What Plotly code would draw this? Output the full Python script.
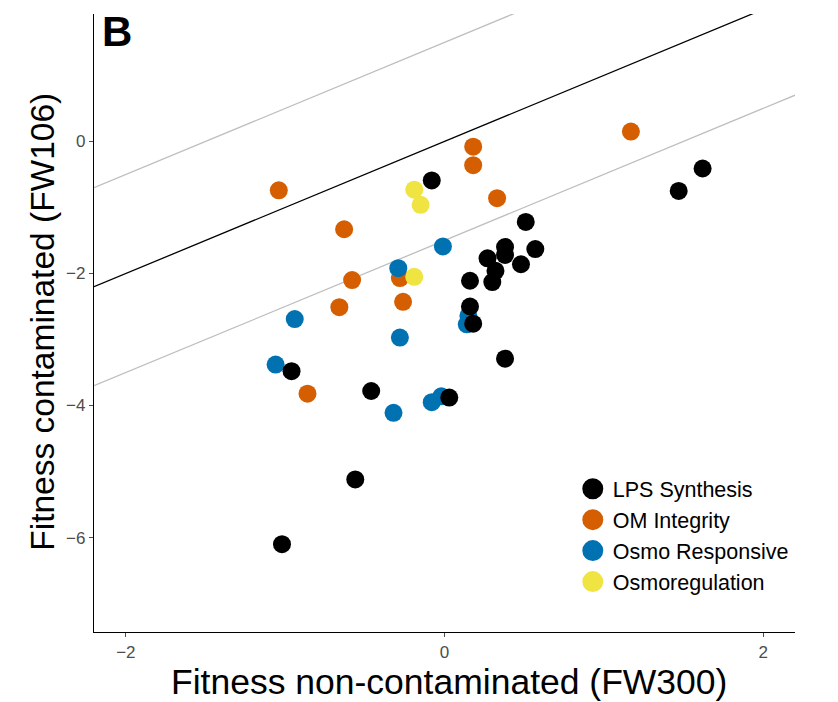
import plotly.graph_objects as go

# ---- data ----
categories = ["LPS Synthesis", "OM Integrity", "Osmo Responsive", "Osmoregulation"]
colors = ["#000000", "#D55E00", "#0072B2", "#F0E442"]

lps_x = [-0.08, 1.62, 1.47, 0.51, 0.38, 0.57, 0.38, 0.27, 0.48, 0.32, 0.16, 0.30,
         0.16, 0.18, 0.38, -0.96, -0.46, 0.03, -0.56, -1.02]
lps_y = [-0.59, -0.41, -0.75, -1.22, -1.60, -1.63, -1.72, -1.77, -1.86, -1.96, -2.11, -2.13,
         -2.50, -2.76, -3.29, -3.48, -3.78, -3.88, -5.12, -6.10]

om_x = [-1.04, -0.63, -0.58, -0.66, -0.28, -0.26, 0.18, 0.18, 0.33, 1.17, -0.86]
om_y = [-0.74, -1.33, -2.10, -2.51, -2.07, -2.43, -0.08, -0.36, -0.86, 0.15, -3.82]

osr_x = [-0.01, -0.29, -0.94, -0.28, 0.15, 0.14, -1.06, -0.32, -0.08, -0.02]
osr_y = [-1.59, -1.92, -2.69, -2.97, -2.64, -2.77, -3.38, -4.11, -3.95, -3.86]

osm_x = [-0.19, -0.15, -0.19]
osm_y = [-0.73, -0.96, -2.05]

# reference lines y = x + b
line_intercepts = [1.5, -1.5, 0.0]
line_colors = ["#BEBEBE", "#BEBEBE", "#000000"]
x_range = [-2.2, 2.2]
y_range = [-7.43, 1.93]

x_ticks = [-2, 0, 2]
x_ticktext = ["\u22122", "0", "2"]
y_ticks = [-6, -4, -2, 0]
y_ticktext = ["\u22126", "\u22124", "\u22122", "0"]

x_title = "Fitness non-contaminated (FW300)"
y_title = "Fitness contaminated (FW106)"
panel_label = "B"

FONT = "Liberation Sans, Arial, Helvetica, sans-serif"

fig = go.Figure()

for b, c in zip(line_intercepts, line_colors):
    fig.add_trace(go.Scatter(
        x=x_range, y=[x_range[0] + b, x_range[1] + b], mode="lines",
        line=dict(color=c, width=1.3), showlegend=False, hoverinfo="skip"))

series = {
    "LPS Synthesis": (lps_x, lps_y),
    "OM Integrity": (om_x, om_y),
    "Osmo Responsive": (osr_x, osr_y),
    "Osmoregulation": (osm_x, osm_y),
}
# draw order: OM, Osmo responsive, Osmoregulation, LPS (black on top)
draw_order = ["OM Integrity", "Osmo Responsive", "Osmoregulation", "LPS Synthesis"]
for name in draw_order:
    xs, ys = series[name]
    c = colors[categories.index(name)]
    fig.add_trace(go.Scatter(
        x=xs, y=ys, mode="markers", name=name,
        marker=dict(size=18, color=c, line=dict(width=0)),
        showlegend=False))

# legend entries (bigger symbols, as in the reference)
for i, name in enumerate(categories):
    fig.add_trace(go.Scatter(
        x=[None], y=[None], mode="markers", name=name,
        marker=dict(size=18, color=colors[i], line=dict(width=5, color=colors[i])),
        showlegend=True, legendrank=i + 1))

axis_common = dict(
    showgrid=False, zeroline=False, showline=True, linecolor="#000000", linewidth=1.3,
    ticks="outside", ticklen=4, tickwidth=1.1, tickcolor="#4d4d4d",
    tickfont=dict(family=FONT, size=17, color="#4d4d4d"), automargin=False,
)

fig.update_xaxes(range=x_range, tickvals=x_ticks, ticktext=x_ticktext, **axis_common)
fig.update_yaxes(range=y_range, tickvals=y_ticks, ticktext=y_ticktext, **axis_common)

fig.add_annotation(text=x_title, xref="paper", yref="paper",
                   x=0.507, y=-0.0815, xanchor="center", yanchor="middle", showarrow=False,
                   font=dict(family=FONT, size=35.5, color="#000000"))
fig.add_annotation(text=y_title, xref="paper", yref="paper", textangle=-90,
                   x=-0.0728, y=0.502, xanchor="center", yanchor="middle", showarrow=False,
                   font=dict(family=FONT, size=33.5, color="#000000"))
fig.add_annotation(text="<b>%s</b>" % panel_label, xref="paper", yref="paper",
                   x=0.008, y=0.972, xanchor="left", yanchor="middle", showarrow=False,
                   font=dict(family=FONT, size=42, color="#000000"))

fig.update_layout(
    width=838, height=702,
    margin=dict(l=94, r=43, t=14, b=70),
    plot_bgcolor="white", paper_bgcolor="white",
    font=dict(family=FONT),
    legend=dict(x=0.683, y=0.265, xanchor="left", yanchor="top",
                font=dict(family=FONT, size=21.5, color="#000000"),
                bgcolor="rgba(0,0,0,0)", itemsizing="trace",
                tracegroupgap=0),
)

fig.write_html("out.html", config={"displayModeBar": False},
               post_script="document.body.style.margin='0px';document.body.style.padding='0px';")
